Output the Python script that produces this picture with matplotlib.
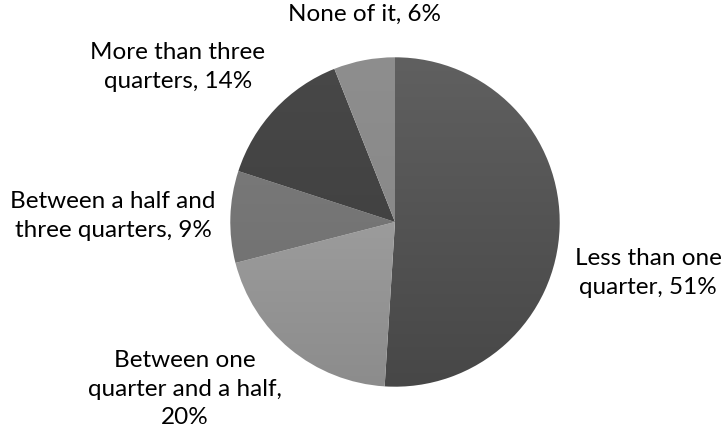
import numpy as np
import matplotlib
matplotlib.use("Agg")
import matplotlib.pyplot as plt

labels = ["Less than one\nquarter, 51%",
          "Between one\nquarter and a half,\n20%",
          "Between a half and\nthree quarters, 9%",
          "More than three\nquarters, 14%",
          "None of it, 6%"]
values = [51, 20, 9, 14, 6]
# (top, bottom) gray levels of the gradient fill
top_gray = [0x60, 0xab, 0x7e, 0x48, 0x8e]
bot_gray = [0x47, 0x8c, 0x6c, 0x3c, 0x84]

# label centres in figure pixels (x, y from top)
label_pos = [(648, 273), (185, 389), (113, 216), (178, 67), (364, 14)]

W, H = 724, 432
fig = plt.figure(figsize=(W / 100, H / 100), dpi=100)
cx, cy, r = 395, 222, 168
ax = fig.add_axes([(cx - r) / W, (H - cy - r) / H, 2 * r / W, 2 * r / H])

wedges, _ = ax.pie(values, startangle=90, counterclock=False, radius=1,
                   wedgeprops=dict(linewidth=0))
ax.set_aspect("equal")
ax.axis("off")

yy = np.linspace(1, 0, 256).reshape(-1, 1)
for w, t, b in zip(wedges, top_gray, bot_gray):
    w.set_facecolor("none")
    g = (b + (t - b) * yy) / 255.0
    img = np.dstack([g, g, g])
    im = ax.imshow(img, extent=(-1, 1, -1, 1), origin="upper",
                   aspect="auto", zorder=w.get_zorder() - 0.1,
                   interpolation="bilinear")
    im.set_clip_path(w)
ax.set_xlim(-1.02, 1.02)
ax.set_ylim(-1.02, 1.02)

for lab, (px, py) in zip(labels, label_pos):
    fig.text(px / W, 1 - py / H, lab, ha="center", va="center",
             fontsize=17.5, family=["Lato", "DejaVu Sans"],
             linespacing=1.45, color="black")

fig.savefig("out.png", dpi=100)
